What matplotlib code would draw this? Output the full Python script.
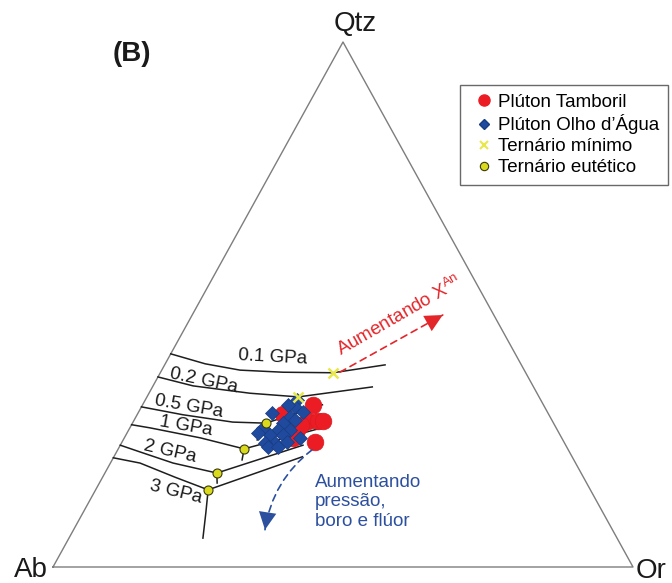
import matplotlib
matplotlib.use('Agg')
import matplotlib.pyplot as plt
from matplotlib.lines import Line2D
from matplotlib.patches import FancyArrowPatch
import numpy as np

plt.rcParams['font.family'] = ['Liberation Sans', 'DejaVu Sans']
plt.rcParams['mathtext.fontset'] = 'custom'
plt.rcParams['mathtext.rm'] = 'Liberation Sans'
plt.rcParams['mathtext.it'] = 'Liberation Sans:italic'

# ---------------- data (ternary compositions, %) ----------------
corner_labels = ['Qtz', 'Ab', 'Or']

tamboril_qtz = [30.9, 29.1, 27.8, 27.8, 26.1, 24.6, 23.8, 27.8, 27.1]
tamboril_ab = [39.7, 45.8, 42.1, 40.4, 44.9, 46.3, 42.9, 39.5, 43.7]
tamboril_or = [29.4, 25.1, 30.1, 31.8, 29.0, 29.1, 33.3, 32.7, 29.2]

olho_qtz = [31.8, 30.5, 29.5, 30.9, 29.3, 28.6, 27.4, 26.5, 26.1, 26.1,
            25.1, 25.1, 24.6, 23.6, 23.6, 23.8, 22.9, 22.9, 28.0, 25.5]
olho_ab = [42.0, 43.0, 42.1, 44.0, 47.6, 44.8, 46.7, 50.5, 48.2, 46.1,
           50.0, 47.8, 45.1, 49.9, 51.7, 47.8, 51.5, 49.7, 44.3, 51.9]
olho_or = [26.2, 26.5, 28.4, 25.1, 23.1, 26.6, 25.9, 23.0, 25.7, 27.8,
           24.9, 27.1, 30.3, 26.5, 24.7, 28.4, 25.6, 27.4, 27.7, 22.6]

minimo_qtz = [37.0, 32.4]
minimo_ab = [33.2, 41.5]
minimo_or = [29.8, 26.1]

eutetico_qtz = [27.4, 22.5, 17.9, 14.7]
eutetico_ab = [49.6, 55.8, 62.8, 65.9]
eutetico_or = [23.0, 21.7, 19.3, 19.4]

# isobaric cotectic curves (Qtz %, Or %)
p01_qtz = [40.6, 38.7, 37.5, 37.1, 37.0, 38.5]
p01_or = [0.0, 6.9, 13.5, 21.1, 29.8, 38.0]
p02_qtz = [36.2, 34.5, 33.1, 32.4, 34.3]
p02_or = [0.0, 6.9, 17.4, 26.1, 37.9]
p05_qtz = [30.5, 29.0, 27.6, 27.4, 30.9]
p05_or = [0.0, 7.9, 17.2, 23.0, 31.0]
p05_stub_qtz = [27.4, 24.2]
p05_stub_or = [23.0, 23.1]
p1_qtz = [27.1, 26.5, 24.6, 22.5, 26.5]
p1_or = [0.0, 3.5, 13.1, 21.7, 33.1]
p1_stub_qtz = [22.5, 20.4]
p1_stub_or = [21.7, 22.4]
p2_qtz = [23.2, 21.9, 19.8, 17.9, 23.2]
p2_or = [0.0, 4.1, 10.8, 19.3, 31.5]
p2_stub_qtz = [17.9, 16.0]
p2_stub_or = [19.3, 20.3]
p3_qtz = [20.8, 19.8, 17.1, 14.7, 21.0]
p3_or = [0.0, 5.1, 12.5, 19.4, 32.5]
p3_stub_qtz = [14.7, 10.3, 5.5]
p3_stub_or = [19.4, 21.2, 23.1]

pressure_labels = ['0.1 GPa', '0.2 GPa', '0.5 GPa', '1 GPa', '2 GPa', '3 GPa']

# arrows (Qtz %, Or %): tail, head
xan_arrow_qtz = [37.1, 48.0]
xan_arrow_or = [30.9, 43.2]
press_arrow_qtz = [22.3, 7.1]
press_arrow_or = [33.5, 33.0]

legend_labels = ['Plúton Tamboril', 'Plúton Olho d’Água', 'Ternário mínimo', 'Ternário eutético']

# ---------------- styling ----------------
RED = '#ec1c24'
BLUE = '#1f4a9e'
YEL_X = '#e8e84a'
YEL_DOT = '#d9d91e'
TXT_BLUE = '#2c4f9e'
TXT_RED = '#e3262a'

W, H = 672, 583
fig = plt.figure(figsize=(W / 100, H / 100), dpi=100)
ax = fig.add_axes([53 / W, 16 / H, 580 / W, 525 / H])
ax.set_xlim(0, 1)
ax.set_ylim(0, 1)
ax.axis('off')


def tern(qtz, orr):
    q = np.asarray(qtz, dtype=float) / 100.0
    o = np.asarray(orr, dtype=float) / 100.0
    return o + q / 2.0, q


def fp(x, y):
    return x / W, 1 - y / H


# triangle
vx, vy = tern([0, 0, 100, 0], [0, 100, 0, 0])
ax.plot(vx, vy, color='#7d7d7d', lw=1.0, clip_on=False, zorder=1)

# cotectic curves
for qs, os_ in [(p01_qtz, p01_or), (p02_qtz, p02_or), (p05_qtz, p05_or),
                (p05_stub_qtz, p05_stub_or), (p1_qtz, p1_or), (p1_stub_qtz, p1_stub_or),
                (p2_qtz, p2_or), (p2_stub_qtz, p2_stub_or), (p3_qtz, p3_or),
                (p3_stub_qtz, p3_stub_or)]:
    x, y = tern(qs, os_)
    ax.plot(x, y, color='#1e1e1e', lw=1.1, clip_on=False, zorder=2,
            solid_joinstyle='round')

# data points
x, y = tern(tamboril_qtz, tamboril_or)
ax.plot(x, y, 'o', ms=12, color=RED, mec='#d81920', mew=0.5, ls='none', zorder=3)
x, y = tern(olho_qtz, olho_or)
ax.plot(x, y, 'D', ms=7.2, color=BLUE, mec='#183c82', mew=0.5, ls='none', zorder=4)
x, y = tern(minimo_qtz, minimo_or)
ax.plot(x, y, 'x', ms=7, color=YEL_X, mew=1.8, ls='none', zorder=6)
x, y = tern(eutetico_qtz, eutetico_or)
ax.plot(x, y, 'o', ms=6.5, color=YEL_DOT, mec='#3a3a10', mew=0.8, ls='none', zorder=6)

# red dashed arrow (increasing X_An)
t = np.array(tern(xan_arrow_qtz[0], xan_arrow_or[0]), dtype=float)
h = np.array(tern(xan_arrow_qtz[1], xan_arrow_or[1]), dtype=float)
ax.add_patch(FancyArrowPatch(t, h, arrowstyle='-', color=TXT_RED, lw=1.2,
                             linestyle=(0, (4, 3)), shrinkA=0, shrinkB=0, zorder=5))
pre = t + 0.88 * (h - t)
ax.add_patch(FancyArrowPatch(pre, h, arrowstyle='-|>,head_length=0.9,head_width=0.45',
                             color=TXT_RED, lw=0, mutation_scale=14,
                             shrinkA=0, shrinkB=0, zorder=5))

# blue dashed curved arrow (increasing pressure, B and F)
t = np.array(tern(press_arrow_qtz[0], press_arrow_or[0]), dtype=float)
h = np.array(tern(press_arrow_qtz[1], press_arrow_or[1]), dtype=float)
rad = 0.2
ax.add_patch(FancyArrowPatch(t, h, arrowstyle='-', color=TXT_BLUE, lw=1.2,
                             linestyle=(0, (4, 3)), connectionstyle=f'arc3,rad={rad}',
                             shrinkA=0, shrinkB=0, zorder=5))
p1 = ax.transData.transform(t)
p2 = ax.transData.transform(h)
mid = (p1 + p2) / 2
d = p2 - p1
c = mid + rad * np.array([d[1], -d[0]])
dv = (p2 - c) / np.linalg.norm(p2 - c)
pre = ax.transData.inverted().transform(p2 - dv * 12)
ax.add_patch(FancyArrowPatch(pre, h, arrowstyle='-|>,head_length=0.9,head_width=0.45',
                             color=TXT_BLUE, lw=0, mutation_scale=14,
                             shrinkA=0, shrinkB=0, zorder=5))

# corner labels
fig.text(*fp(355, 31), corner_labels[0], fontsize=20, ha='center', va='baseline', color='#1a1a1a')
fig.text(*fp(31, 577), corner_labels[1], fontsize=20, ha='center', va='baseline', color='#1a1a1a')
fig.text(*fp(651, 578), corner_labels[2], fontsize=20, ha='center', va='baseline', color='#1a1a1a')
fig.text(*fp(113, 61), '(B)', fontsize=20, fontweight='bold', ha='left', va='baseline', color='#1a1a1a')

# pressure labels
plab_pos = [(273, 357), (204, 381), (189, 407), (186, 426), (170, 452), (176, 492)]
plab_rot = [-3, -12, -10, -10, -13, -14]
for lab, (px, py), r in zip(pressure_labels, plab_pos, plab_rot):
    fig.text(*fp(px, py), lab, fontsize=13.5, ha='center', va='center', rotation=r,
             rotation_mode='anchor', color='#1a1a1a')

# annotations
fig.text(*fp(399, 316), r'Aumentando $\mathrm{X}^{\mathrm{An}}$', fontsize=13.5, color=TXT_RED,
         rotation=30, ha='center', va='center', rotation_mode='anchor')
fig.text(*fp(315, 474), 'Aumentando\npressão,\nboro e flúor', fontsize=13.5, color=TXT_BLUE,
         ha='left', va='top', linespacing=1.18)

# legend
handles = [
    Line2D([], [], marker='o', ls='none', ms=8, color=RED, mec=RED),
    Line2D([], [], marker='D', ls='none', ms=5.2, color=BLUE, mec='#183c82'),
    Line2D([], [], marker='x', ls='none', ms=5.5, color=YEL_X, mew=1.5),
    Line2D([], [], marker='o', ls='none', ms=6, color=YEL_DOT, mec='#3a3a10', mew=0.8),
]
leg = fig.legend(handles, legend_labels, loc='upper left', bbox_to_anchor=fp(460, 85),
                 bbox_transform=fig.transFigure, frameon=True, fancybox=False,
                 fontsize=13.5, handlelength=1.65, handletextpad=-0.08, borderpad=0.45,
                 labelspacing=0.2, borderaxespad=0)
leg.get_frame().set_edgecolor('#444444')
leg.get_frame().set_linewidth(1.0)

fig.savefig('out.png', dpi=100)
